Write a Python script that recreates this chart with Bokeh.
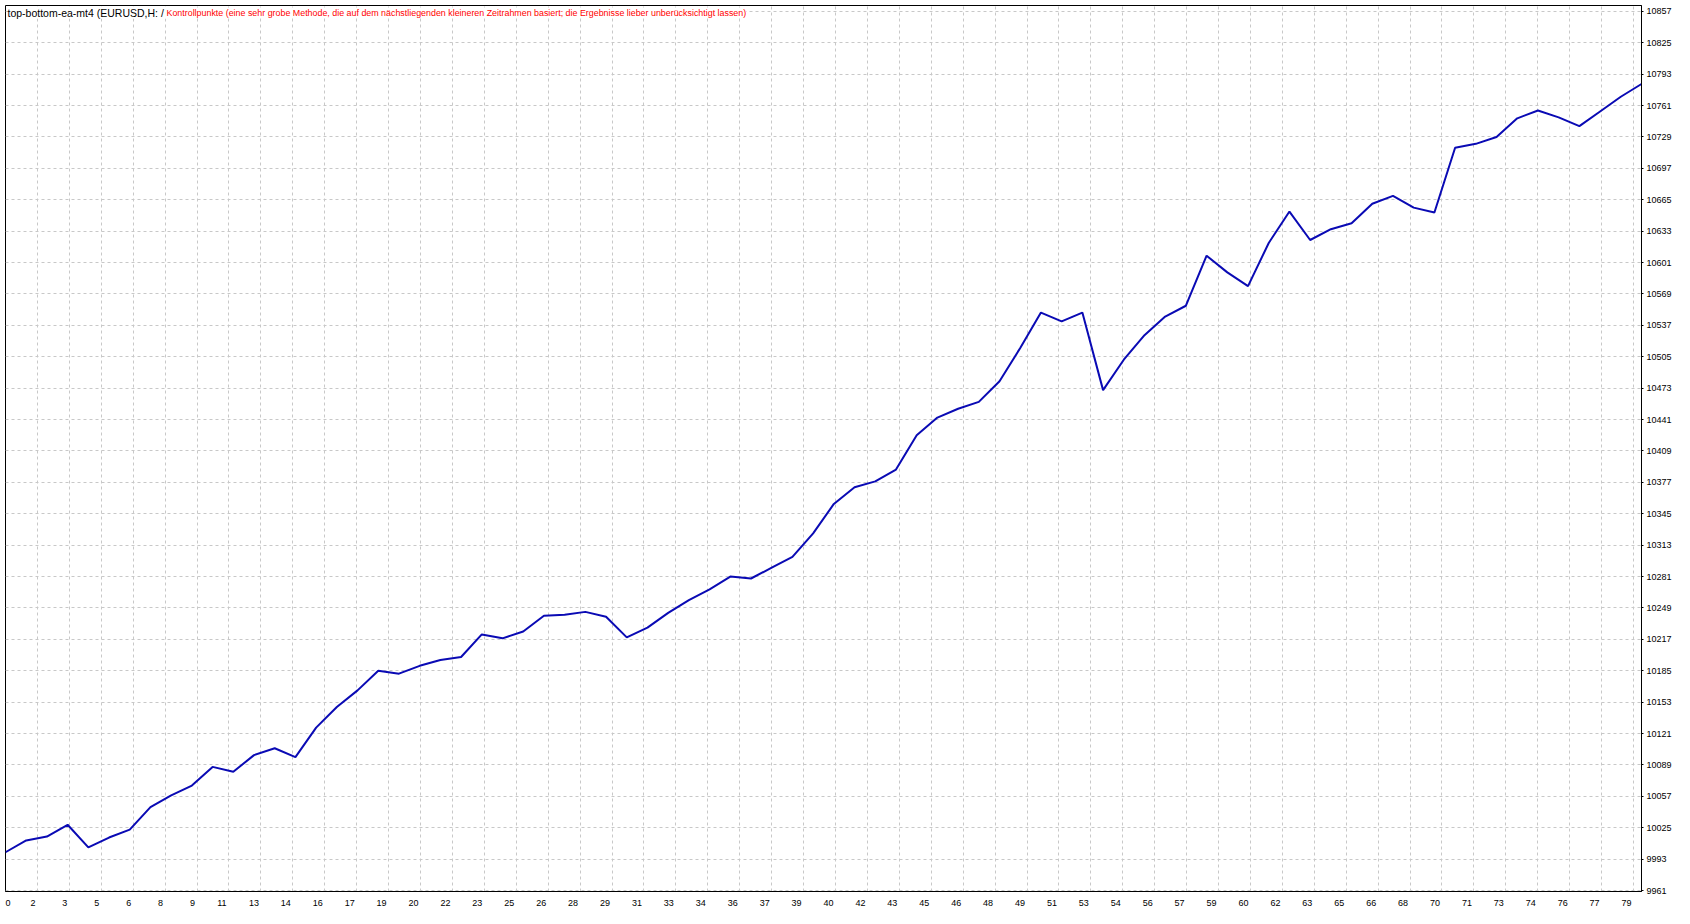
from bokeh.plotting import figure
from bokeh.models import Range1d, FixedTicker, Grid, Label
from bokeh.embed import file_html
from bokeh.resources import INLINE

# ---- data ----
trade = list(range(80))
balance = [
    10000, 10012, 10016, 10028, 10005, 10015, 10023, 10046, 10058, 10068,
    10087, 10082, 10099, 10106, 10097, 10127, 10148, 10165, 10185, 10182,
    10190, 10196, 10199, 10222, 10218, 10225, 10241, 10242, 10245, 10240,
    10219, 10229, 10244, 10257, 10268, 10281, 10279, 10290, 10301, 10325,
    10355, 10372, 10378, 10390, 10425, 10443, 10452, 10459, 10480, 10514,
    10550, 10541, 10550, 10471, 10502, 10527, 10546, 10557, 10608, 10591,
    10577, 10621, 10653, 10624, 10635, 10641, 10661, 10669, 10657, 10652,
    10718, 10722, 10729, 10748, 10756, 10749, 10740, 10755, 10770, 10783,
]
x_tick_labels = ["0", "2", "3", "5", "6", "8", "9", "11", "13", "14", "16", "17",
                 "19", "20", "22", "23", "25", "26", "28", "29", "31", "33", "34",
                 "36", "37", "39", "40", "42", "43", "45", "46", "48", "49", "51",
                 "53", "54", "56", "57", "59", "60", "62", "63", "65", "66", "68",
                 "70", "71", "73", "74", "76", "77", "79"]
y_tick_values = list(range(9961, 10858, 32))
title_black = "top-bottom-ea-mt4 (EURUSD,H: / "
title_red = ("Kontrollpunkte (eine sehr grobe Methode, die auf dem nächstliegenden "
             "kleineren Zeitrahmen basiert; die Ergebnisse lieber unberücksichtigt lassen)")

# ---- layout ----
W, H = 1674, 908
BL, BR, BT, BB = 5, 29, 5, 12
X0, X1 = 0, 79
Y0, Y1 = 9960, 10863
FONT = "Liberation Sans"
FS = "9px"

p = figure(width=W, height=H, output_backend="svg", toolbar_location=None,
           x_range=Range1d(X0, X1), y_range=Range1d(Y0, Y1),
           x_axis_location="below", y_axis_location="right",
           min_border_left=BL, min_border_right=BR,
           min_border_top=BT, min_border_bottom=BB)
p.background_fill_color = "white"
p.border_fill_color = "white"
p.outline_line_color = "black"
p.outline_line_width = 1

frame_w = W - BL - 30
px_per_unit = frame_w / (X1 - X0)
grid_step_units = 32 * (X1 - X0) / 1640.0   # grid every 32 px of the reference frame
grid_x = [round(k * grid_step_units, 5) for k in range(1, len(x_tick_labels))]

# label positions: right edge of text just left of the grid line
label_pos = [round(2.4 / px_per_unit, 5)]
for g, lab in zip(grid_x, x_tick_labels[1:]):
    label_pos.append(round(g - (2.0 + 2.5 * len(lab)) / px_per_unit, 5))
overrides = {pos: lab for pos, lab in zip(label_pos, x_tick_labels)}

# hide default grids, add our own
p.xgrid.visible = False
p.ygrid.visible = False
for dim, ticks in ((0, grid_x), (1, y_tick_values)):
    g = Grid(dimension=dim, ticker=FixedTicker(ticks=ticks, minor_ticks=[]),
             grid_line_color="#c8c8c8", grid_line_dash="3 3", grid_line_width=1)
    p.add_layout(g)

xa = p.xaxis[0]
xa.ticker = FixedTicker(ticks=label_pos, minor_ticks=[])
xa.major_label_overrides = overrides
xa.major_tick_line_color = None
xa.minor_tick_line_color = None
xa.axis_line_color = "black"
xa.major_label_standoff = 2
xa.major_label_text_font = FONT
xa.major_label_text_font_size = FS
xa.major_label_text_color = "black"

ya = p.yaxis[0]
ya.ticker = FixedTicker(ticks=y_tick_values, minor_ticks=[])
ya.major_label_overrides = {v: str(v) for v in y_tick_values}
ya.major_tick_in = 0
ya.major_tick_out = 2
ya.major_tick_line_color = "black"
ya.minor_tick_line_color = None
ya.axis_line_color = "black"
ya.major_label_standoff = 3
ya.major_label_text_font = FONT
ya.major_label_text_font_size = FS
ya.major_label_text_color = "black"

p.line(trade, balance, line_color="#0a0ab4", line_width=2)

p.add_layout(Label(x=X0, y=Y1, x_units="data", y_units="data", x_offset=2, y_offset=-7,
                   text=title_black, text_align="left", text_baseline="middle",
                   text_font=FONT, text_font_size="10.5px", text_color="black",
                   background_fill_color="white"))
p.add_layout(Label(x=X0, y=Y1, x_units="data", y_units="data", x_offset=161, y_offset=-7,
                   text=title_red, text_align="left", text_baseline="middle",
                   text_font=FONT, text_font_size="8.9px", text_color="#ff0000",
                   background_fill_color="white"))

open("out.html", "w").write(file_html(p, INLINE))
